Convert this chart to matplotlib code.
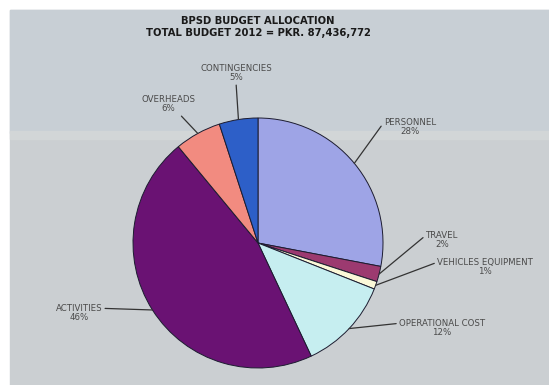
import numpy as np
import matplotlib
matplotlib.use("Agg")
import matplotlib.pyplot as plt
from matplotlib.patches import Rectangle

# BPSD budget split for 2012 (percent of total)
categories = ["PERSONNEL", "TRAVEL", "VEHICLES EQUIPMENT", "OPERATIONAL COST",
              "ACTIVITIES", "OVERHEADS", "CONTINGENCIES"]
shares = [28, 2, 1, 12, 46, 6, 5]
colors = ["#9ea4e6", "#9c3a70", "#fbf8d8", "#c6eef0", "#6a1273", "#f28b80", "#2d5fc8"]

title_lines = ["BPSD BUDGET ALLOCATION", "TOTAL BUDGET 2012 = PKR. 87,436,772"]

W, H = 549, 385
CENTER = (258, H - 243)
RADIUS = 125

# label placement (pixel coords, y up) and where the leader leaves the text box
LABEL_POS = {
    "PERSONNEL": ((410, H - 127), (0.0, 0.75)),
    "TRAVEL": ((442, H - 240), (0.0, 0.75)),
    "VEHICLES EQUIPMENT": ((485, H - 267), (0.0, 0.75)),
    "OPERATIONAL COST": ((442, H - 328), (0.0, 0.75)),
    "ACTIVITIES": ((79, H - 313), (1.0, 0.75)),
    "OVERHEADS": ((168, H - 104), (0.7, 0.0)),
    "CONTINGENCIES": ((236, H - 73), (0.5, 0.0)),
}

fig = plt.figure(figsize=(W / 100, H / 100), dpi=100)
fig.patch.set_facecolor("white")
ax = fig.add_axes([0, 0, 1, 1])

# scanned page background, slightly bluer above a faint light band
ax.add_patch(Rectangle((10, 0), W - 10, H - 10, color="#cbcfd2", zorder=0))
ax.add_patch(Rectangle((10, H - 133), W - 10, 123, color="#c8cfd5", zorder=0))
ax.add_patch(Rectangle((10, H - 139), W - 10, 8, color="#d2d6d7", zorder=0))

wedges, _ = ax.pie(shares, colors=colors, startangle=90, counterclock=False,
                   center=CENTER, radius=RADIUS, frame=True,
                   wedgeprops=dict(edgecolor="#1c1c30", linewidth=0.7))

for wedge, name, pct in zip(wedges, categories, shares):
    mid = np.deg2rad((wedge.theta1 + wedge.theta2) / 2)
    edge = (CENTER[0] + RADIUS * np.cos(mid), CENTER[1] + RADIUS * np.sin(mid))
    pos, rel = LABEL_POS[name]
    ax.annotate(f"{name}\n{pct}%", xy=edge, xytext=pos,
                ha="center", va="center", multialignment="center",
                fontsize=6.2, color="#4a4a4a", family="DejaVu Sans",
                linespacing=1.1,
                arrowprops=dict(arrowstyle="-", color="#333333", lw=0.9,
                                shrinkA=0, shrinkB=0, relpos=rel))

ax.text(258, H - 21, title_lines[0], ha="center", va="center",
        fontsize=7.2, fontweight="bold", color="#1a1a1a", family="DejaVu Sans")
ax.text(258, H - 33, title_lines[1], ha="center", va="center",
        fontsize=7.2, fontweight="bold", color="#1a1a1a", family="DejaVu Sans")

ax.set_xlim(0, W)
ax.set_ylim(0, H)
ax.set_aspect("equal")
ax.axis("off")

fig.savefig("out.png", dpi=100, facecolor="white")
